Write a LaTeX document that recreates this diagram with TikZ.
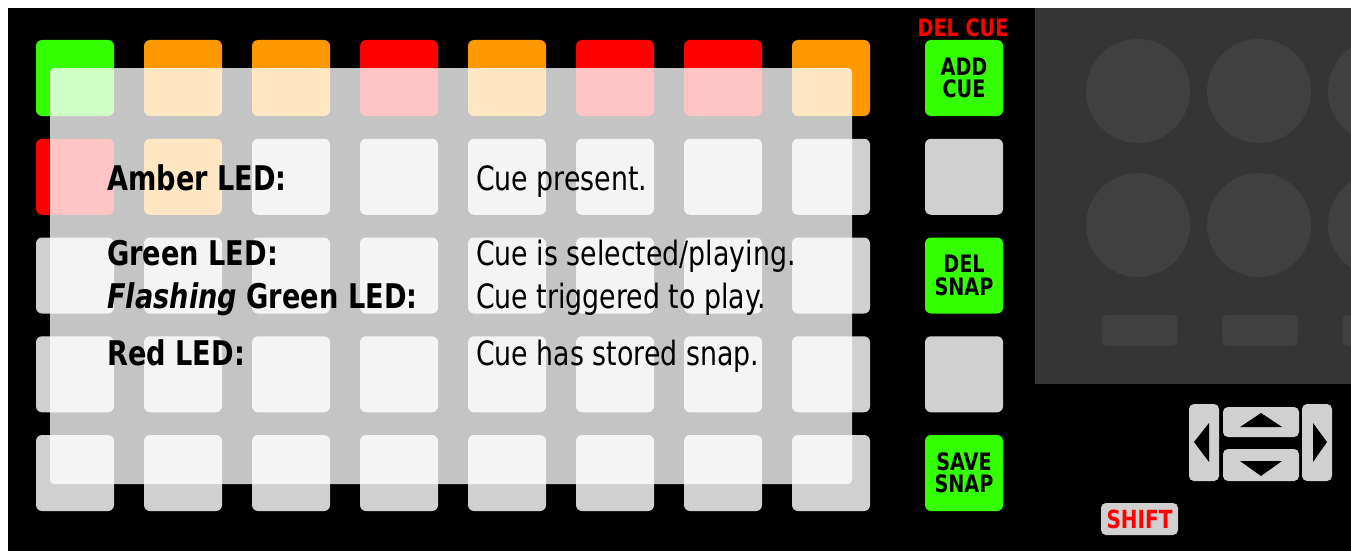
\documentclass[tikz,border=0pt]{standalone}
\usepackage{fontspec}
\setmainfont{DejaVu Sans}[FakeStretch=0.8]
\definecolor{padgreen}{RGB}{51,255,0}
\definecolor{padorange}{RGB}{255,153,0}
\definecolor{padred}{RGB}{255,0,0}
\definecolor{padgray}{RGB}{208,208,208}
\definecolor{panelgray}{RGB}{53,53,53}
\definecolor{knobgray}{RGB}{64,64,64}
\begin{document}
\begin{tikzpicture}[x=1pt,y=-1pt,
  pad/.style={rectangle, rounded corners=6pt, minimum width=78pt, minimum height=76pt, inner sep=0pt, draw=none},
  btntext/.style={align=center, font=\fontsize{24}{22.5}\selectfont\bfseries, text=black, inner sep=0pt},
  boldlbl/.style={anchor=base west, inner sep=0pt, font=\fontsize{34}{40}\selectfont\bfseries},
  desclbl/.style={anchor=base west, inner sep=0pt, font=\fontsize{33.5}{40}\selectfont},
  navbtn/.style={rectangle, rounded corners=5pt, fill=padgray, inner sep=0pt, draw=none},
  knob/.style={circle, fill=knobgray, minimum size=104pt, inner sep=0pt, draw=none},
  slot/.style={rectangle, rounded corners=5pt, fill=knobgray, minimum width=76pt, minimum height=31pt, inner sep=0pt, draw=none}
]
\useasboundingbox (0,0) rectangle (1351,551);
\fill[white] (0,0) rectangle (1351,551);
\fill[black] (8,8) rectangle (1351,551);
% pad grid
\foreach \c/\col in {0/padgreen,1/padorange,2/padorange,3/padred,4/padorange,5/padred,6/padred,7/padorange}
  \node[pad, fill=\col] (p-0-\c) at ({75+108*\c},78) {};
\foreach \c/\col in {0/padred,1/padorange,2/padgray,3/padgray,4/padgray,5/padgray,6/padgray,7/padgray}
  \node[pad, fill=\col] (p-1-\c) at ({75+108*\c},176.75) {};
\foreach \r in {2,3,4}
  \foreach \c in {0,...,7}
    \node[pad, fill=padgray] (p-\r-\c) at ({75+108*\c},{78+98.75*\r}) {};
% right column buttons
\node[pad, fill=padgreen] (addcue) at (964,78) {};
\node[btntext] at (addcue.center) {ADD\\CUE};
\node[pad, fill=padgray] (b2) at (964,176.75) {};
\node[pad, fill=padgreen] (delsnap) at (964,275.5) {};
\node[btntext] at (delsnap.center) {DEL\\SNAP};
\node[pad, fill=padgray] (b4) at (964,374.25) {};
\node[pad, fill=padgreen] (savesnap) at (964,473) {};
\node[btntext] at (savesnap.center) {SAVE\\SNAP};
\node[anchor=base, inner sep=0pt, text=padred, font=\fontsize{24}{28}\selectfont\bfseries] (delcue) at (963,37) {DEL CUE};
% legend box
\node[rectangle, fill=white, fill opacity=0.77, rounded corners=4pt, minimum width=802pt, minimum height=416pt, inner sep=0pt, draw=none] (legend) at (451,276) {};
\node[boldlbl] (l1) at (107,190) {Amber LED:};
\node[boldlbl] (l2) at (107,265) {Green LED:};
\node[boldlbl] (l3) at (107,308) {\textit{Flashing} Green LED:};
\node[boldlbl] (l4) at (107,365) {Red LED:};
\node[desclbl] (d1) at (476,190) {Cue present.};
\node[desclbl] (d2) at (476,265) {Cue is selected/playing.};
\node[desclbl] (d3) at (476,308) {Cue triggered to play.};
\node[desclbl] (d4) at (476,365) {Cue has stored snap.};
% right panel
\begin{scope}
\clip (1035,8) rectangle (1351,384);
\fill[panelgray] (1035,8) rectangle (1351,384);
\foreach \i in {0,1,2} {
  \node[knob] (k-a-\i) at ({1138+121*\i},91) {};
  \node[knob] (k-b-\i) at ({1138+121*\i},225) {};
  \node[slot] (s-\i) at ({1139.5+120.5*\i},330.5) {};
}
\end{scope}
% navigation buttons
\node[navbtn, minimum width=30pt, minimum height=77pt] (navl) at (1204,442.5) {};
\node[navbtn, minimum width=76pt, minimum height=30pt] (navu) at (1261,422) {};
\node[navbtn, minimum width=76pt, minimum height=32pt] (navd) at (1261,465) {};
\node[navbtn, minimum width=30pt, minimum height=77pt] (navr) at (1317,442.5) {};
\fill[black] (1194,442) -- (1209,423) -- (1209,462) -- cycle;
\fill[black] (1261,413) -- (1282,427) -- (1240,427) -- cycle;
\fill[black] (1240,461) -- (1282,461) -- (1261,476) -- cycle;
\fill[black] (1313,423) -- (1327,442) -- (1313,462) -- cycle;
% shift
\node[navbtn, minimum width=77pt, minimum height=32pt, text=padred, font=\fontsize{25}{28}\selectfont\bfseries] (shift) at (1139.5,519) {SHIFT};
\end{tikzpicture}
\end{document}
